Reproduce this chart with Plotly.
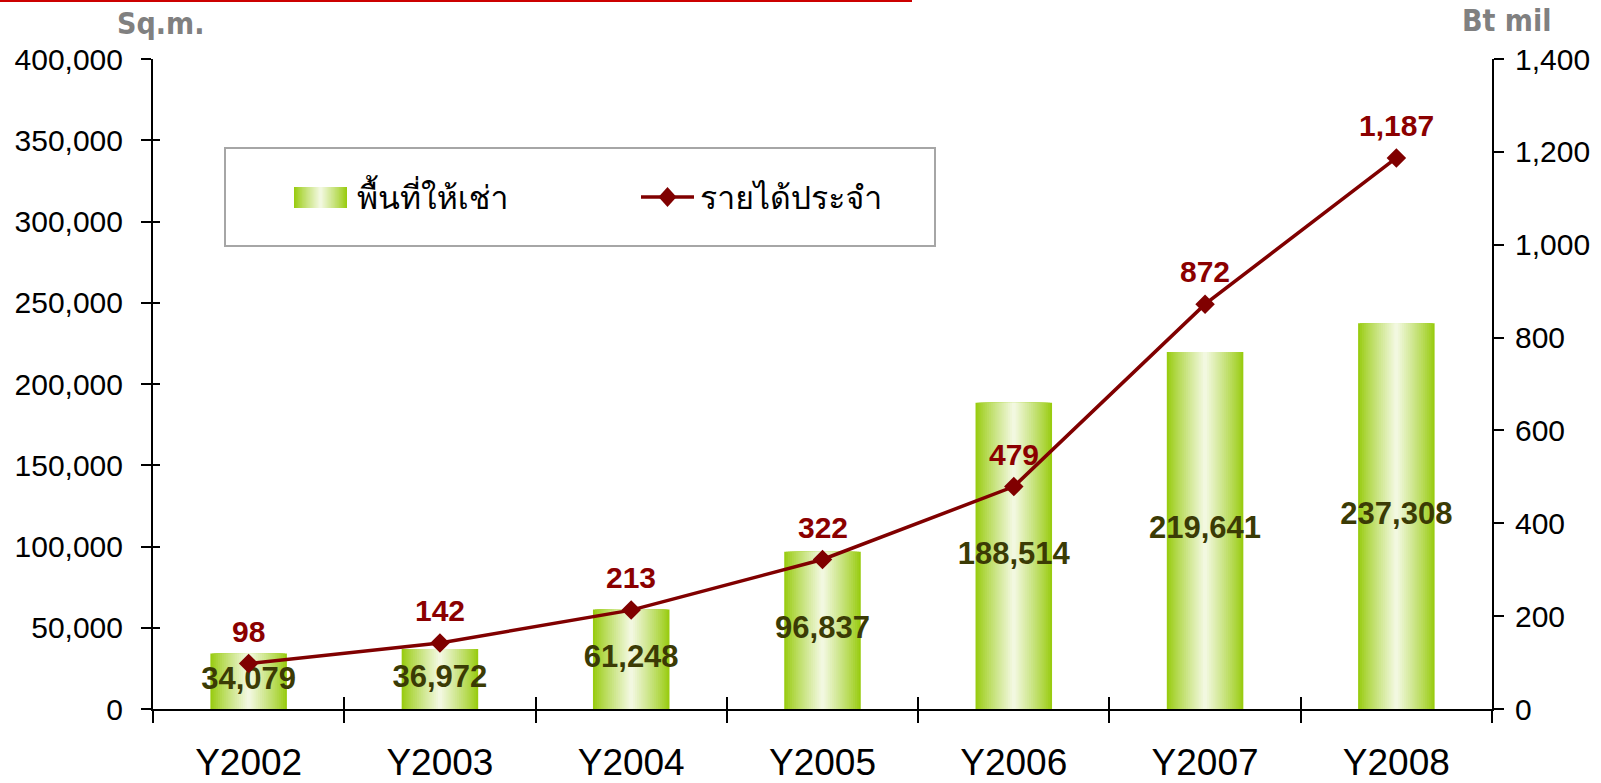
import math
import plotly.graph_objects as go

CATEGORIES = ["Y2002", "Y2003", "Y2004", "Y2005", "Y2006", "Y2007", "Y2008"]
AREA_SQM = [34079, 36972, 61248, 96837, 188514, 219641, 237308]
REVENUE_BT_MIL = [98, 142, 213, 322, 479, 872, 1187]
AREA_LABEL = "พื้นที่ให้เช่า"
REVENUE_LABEL = "รายได้ประจำ"
LEFT_TICKS = list(range(0, 400001, 50000))
RIGHT_TICKS = list(range(0, 1401, 200))

# layout geometry (px)
W, H = 1601, 783
L, R, T, B = 153, 1601 - 1492, 59, 783 - 709
PW, PH = W - L - R, H - T - B


def px_x(x):
    return (x - L) / PW


def px_y(y):
    return (H - B - y) / PH


GREEN = (0x99, 0xCC, 0x11)
LIGHT = (0xF2, 0xF8, 0xE0)
N_LAYERS = 20
BAR_W = 0.40
MAROON = "#800000"


def grad_color(k, n):
    t = k / (n - 1)
    f = t ** 0.9
    c = tuple(round(GREEN[i] + (LIGHT[i] - GREEN[i]) * f) for i in range(3))
    return "rgb(%d,%d,%d)" % c


fig = go.Figure()

# gradient bars: overlaid bars of decreasing width, lighter toward centre
for k in range(N_LAYERS):
    fig.add_trace(go.Bar(
        x=CATEGORIES, y=AREA_SQM,
        width=BAR_W * (1 - k / N_LAYERS),
        marker=dict(color=grad_color(k, N_LAYERS), line=dict(width=0)),
        name=AREA_LABEL,
        showlegend=False,
        hoverinfo="skip" if k else None,
    ))

# bar value labels
fig.add_trace(go.Scatter(
    x=CATEGORIES, y=[v / 2 for v in AREA_SQM],
    mode="text",
    text=[f"{v:,}" for v in AREA_SQM],
    textposition="middle center",
    textfont=dict(family="Liberation Sans, Arial", size=31, color="#3B3B05", weight="bold"),
    showlegend=False, hoverinfo="skip",
))

# revenue line
fig.add_trace(go.Scatter(
    x=CATEGORIES, y=REVENUE_BT_MIL,
    yaxis="y2",
    mode="lines+markers",
    name=REVENUE_LABEL,
    line=dict(color=MAROON, width=3.5),
    marker=dict(symbol="diamond", size=15, color=MAROON),
    showlegend=False,
))

# dummy traces for overlay tick axes
fig.add_trace(go.Scatter(x=CATEGORIES[:1], y=[None], yaxis="y3", mode="none",
                         showlegend=False, hoverinfo="skip"))
fig.add_trace(go.Scatter(x=CATEGORIES[:1], y=[None], xaxis="x2", mode="none",
                         showlegend=False, hoverinfo="skip"))

tickfont = dict(family="Liberation Sans, Arial", size=30, color="#000000")

# ---- hand-built legend (box, swatches, labels) ----
shapes = [
    dict(type="rect", xref="paper", yref="paper",
         x0=px_x(225), x1=px_x(935), y0=px_y(246), y1=px_y(148),
         line=dict(color="#A6A6A6", width=2), fillcolor="rgba(0,0,0,0)", layer="below"),
    dict(type="line", xref="paper", yref="paper",
         x0=px_x(0), x1=px_x(912), y0=px_y(1), y1=px_y(1),
         line=dict(color="#CC0000", width=2)),
]
SW_CX, SW_HALF, SW_Y0, SW_Y1 = 320.5, 26.5, 187, 208
for k in range(N_LAYERS):
    hw = SW_HALF * (1 - k / N_LAYERS)
    shapes.append(dict(type="rect", xref="paper", yref="paper",
                       x0=px_x(SW_CX - hw), x1=px_x(SW_CX + hw),
                       y0=px_y(SW_Y1), y1=px_y(SW_Y0),
                       line=dict(width=0), fillcolor=grad_color(k, N_LAYERS), layer="above"))
LY = 197
shapes.append(dict(type="line", xref="paper", yref="paper",
                   x0=px_x(641), x1=px_x(694), y0=px_y(LY), y1=px_y(LY),
                   line=dict(color=MAROON, width=3.5)))
DX, DCX = 9, 667.5
shapes.append(dict(type="path", xref="paper", yref="paper",
                   path="M %f,%f L %f,%f L %f,%f L %f,%f Z" % (
                       px_x(DCX), px_y(LY - 10), px_x(DCX + DX), px_y(LY),
                       px_x(DCX), px_y(LY + 10), px_x(DCX - DX), px_y(LY)),
                   fillcolor=MAROON, line=dict(width=0)))

legend_font = dict(family="Loma, Noto Sans Thai, Tahoma, sans-serif", size=32, color="#000000")
title_font = dict(family="DejaVu Sans Condensed, DejaVu Sans", size=30, color="#808080", weight="bold")
line_label_font = dict(family="Liberation Sans, Arial", size=30, color="#8B0000", weight="bold")

annotations = [
    dict(text=AREA_LABEL, xref="paper", yref="paper", x=px_x(355), y=px_y(LY),
         xanchor="left", yanchor="middle", showarrow=False, font=legend_font),
    dict(text=REVENUE_LABEL, xref="paper", yref="paper", x=px_x(698), y=px_y(LY),
         xanchor="left", yanchor="middle", showarrow=False, font=legend_font),
    dict(text="Sq.m.", xref="paper", yref="paper", x=px_x(160), y=px_y(24),
         xanchor="center", yanchor="middle", showarrow=False, font=title_font),
    dict(text="Bt mil", xref="paper", yref="paper", x=px_x(1506), y=px_y(21),
         xanchor="center", yanchor="middle", showarrow=False, font=title_font),
]
# revenue value labels, placed above each point through the right axis scale
for cat, v in zip(CATEGORIES, REVENUE_BT_MIL):
    annotations.append(dict(text=f"{v:,}", x=cat, y=v, xref="x", yref="y2",
                            xanchor="center", yanchor="bottom", yshift=14,
                            showarrow=False, font=line_label_font))

fig.update_layout(
    width=W, height=H,
    margin=dict(l=L, r=R, t=T, b=B, pad=0, autoexpand=False),
    paper_bgcolor="white", plot_bgcolor="white",
    barmode="overlay",
    showlegend=False,
    xaxis=dict(
        type="category", categoryorder="array", categoryarray=CATEGORIES,
        range=[-0.5, 6.5], automargin=False,
        tickson="boundaries", ticks="outside", ticklen=12, tickwidth=1.5, tickcolor="black",
        showline=True, linecolor="black", linewidth=2,
        showgrid=False, zeroline=False,
        tickfont=dict(family="Liberation Sans, Arial", size=37, color="#000000"),
        ticklabelstandoff=20,
    ),
    xaxis2=dict(
        type="category", categoryorder="array", categoryarray=CATEGORIES,
        range=[-0.5, 6.5], overlaying="x", anchor="y", automargin=False,
        tickson="boundaries", ticks="inside", ticklen=12, tickwidth=1.5, tickcolor="black",
        showticklabels=False, showline=False, showgrid=False, zeroline=False,
    ),
    yaxis=dict(
        range=[0, 400000], tickvals=LEFT_TICKS, automargin=False,
        ticktext=[f"{v:,}" for v in LEFT_TICKS],
        ticks="outside", ticklen=10, tickwidth=1.5, tickcolor="black",
        showline=True, linecolor="black", linewidth=2,
        showgrid=False, zeroline=False,
        tickfont=tickfont, ticklabelstandoff=12,
    ),
    yaxis3=dict(
        range=[0, 400000], tickvals=LEFT_TICKS, overlaying="y", anchor="x", side="left",
        automargin=False,
        ticks="inside", ticklen=7, tickwidth=1.5, tickcolor="black",
        showticklabels=False, showline=False, showgrid=False, zeroline=False,
    ),
    yaxis2=dict(
        range=[0, 1400], tickvals=RIGHT_TICKS, automargin=False,
        ticktext=[f"{v:,}" for v in RIGHT_TICKS],
        overlaying="y", side="right", anchor="x",
        ticks="outside", ticklen=10, tickwidth=1.5, tickcolor="black",
        showline=True, linecolor="black", linewidth=2,
        showgrid=False, zeroline=False,
        tickfont=tickfont, ticklabelstandoff=5,
    ),
    shapes=shapes,
    annotations=annotations,
)

fig.write_html(
    "out.html",
    config={"displayModeBar": False},
    post_script="document.body.style.margin='0';document.body.style.overflow='hidden';",
)
